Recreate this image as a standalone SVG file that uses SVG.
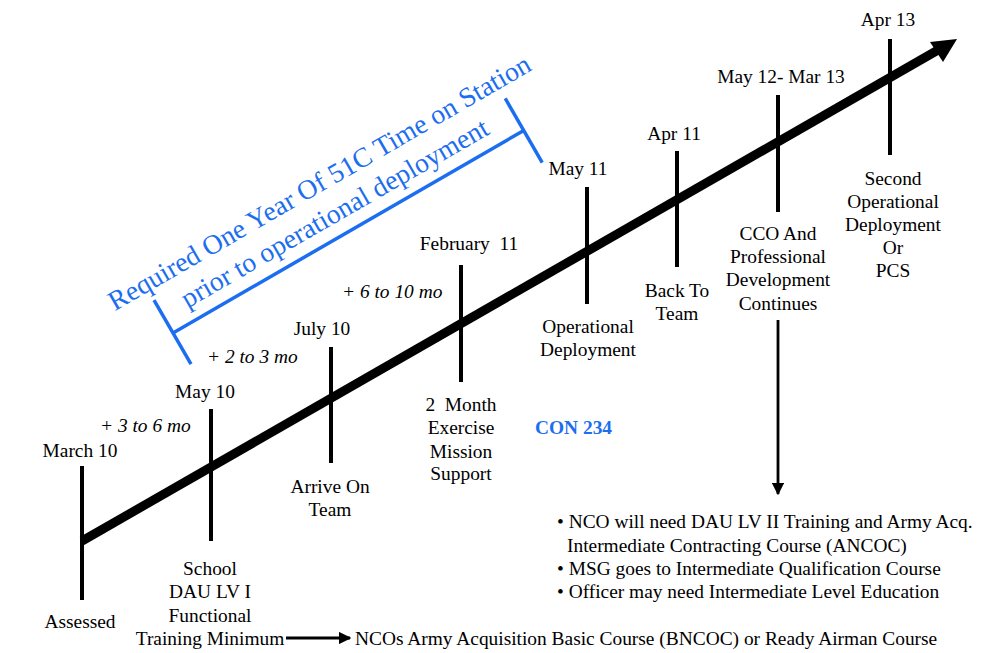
<svg xmlns="http://www.w3.org/2000/svg" width="985" height="653" viewBox="0 0 985 653">
<defs>
<style>
text{font-size:19.4px;fill:#000}
.c{text-anchor:middle}
.it{font-style:italic}
.pre{white-space:pre}
.blue{fill:#1c6ef0}
.big{font-size:27.6px}
.tick{stroke:#000;stroke-width:4;fill:none}
.bl{stroke:#1c6ef0;stroke-width:3.5;fill:none}
</style>
<marker id="ah" viewBox="0 0 10 10" refX="9" refY="5" markerWidth="4.5" markerHeight="4.5" orient="auto" markerUnits="strokeWidth">
<path d="M0,0 L10,5 L0,10 z" fill="#000"/>
</marker>
</defs>
<rect width="985" height="653" fill="#fff"/>
<g font-family="Liberation Serif, Times New Roman, serif">
<g id="connectors">
<line x1="82" y1="541" x2="938" y2="50" stroke="#000" stroke-width="9"/>
<polygon points="957,39 930,42 943,62" fill="#000"/>
<line x1="778" y1="320" x2="778" y2="494" stroke="#000" stroke-width="2.8" marker-end="url(#ah)"/>
<line x1="286" y1="638" x2="350" y2="638" stroke="#000" stroke-width="2.8" marker-end="url(#ah)"/>
</g>
<g id="bracket" transform="translate(173,333) rotate(-30)">
<line class="bl" x1="0" y1="0" x2="405" y2="0"/>
<line class="bl" x1="0" y1="-38" x2="0" y2="36"/>
<line class="bl" x1="405" y1="-37" x2="405" y2="37"/>
<text class="c blue big" x="202" y="-48">Required One Year Of 51C Time on Station</text>
<text class="c blue big" x="200" y="-14">prior to operational deployment</text>
</g>
<g id="n-march10">
<line class="tick" x1="82" y1="466" x2="82" y2="600"/>
<text class="c" x="80" y="457">March 10</text>
<text class="c" x="80" y="628">Assessed</text>
</g>
<g id="n-may10">
<line class="tick" x1="211" y1="409" x2="211" y2="541"/>
<text class="c" x="205" y="398">May 10</text>
<text class="c" x="210" y="575">School</text>
<text class="c" x="210" y="598">DAU LV I</text>
<text class="c" x="210" y="622">Functional</text>
<text class="c" x="210" y="645">Training Minimum</text>
</g>
<g id="n-bncoc">
<text x="355" y="645">NCOs Army Acquisition Basic Course (BNCOC) or Ready Airman Course</text>
</g>
<g id="n-july10">
<line class="tick" x1="331" y1="347" x2="331" y2="463"/>
<text class="c" x="322" y="335">July 10</text>
<text class="c" x="330" y="493">Arrive On</text>
<text class="c" x="330" y="516">Team</text>
</g>
<g id="n-feb11">
<line class="tick" x1="461" y1="265" x2="461" y2="382"/>
<text class="c pre" x="469" y="250">February  11</text>
<text class="c pre" x="461" y="411">2  Month</text>
<text class="c" x="461" y="434">Exercise</text>
<text class="c" x="461" y="458">Mission</text>
<text class="c" x="461" y="480">Support</text>
</g>
<g id="n-may11">
<line class="tick" x1="587" y1="187" x2="587" y2="304"/>
<text class="c" x="578" y="175">May 11</text>
<text class="c" x="588" y="333">Operational</text>
<text class="c" x="588" y="356">Deployment</text>
</g>
<g id="n-con234">
<text class="blue" x="535" y="434" font-weight="bold">CON 234</text>
</g>
<g id="n-apr11">
<line class="tick" x1="677" y1="151" x2="677" y2="267"/>
<text class="c" x="674" y="140">Apr 11</text>
<text class="c" x="677" y="297">Back To</text>
<text class="c" x="677" y="320">Team</text>
</g>
<g id="n-may12">
<line class="tick" x1="778" y1="95" x2="778" y2="212"/>
<text class="c" x="781" y="83">May 12- Mar 13</text>
<text class="c" x="778" y="240">CCO And</text>
<text class="c" x="778" y="263">Professional</text>
<text class="c" x="778" y="286">Development</text>
<text class="c" x="778" y="310">Continues</text>
</g>
<g id="n-apr13">
<line class="tick" x1="890" y1="39" x2="890" y2="155"/>
<text class="c" x="888" y="26">Apr 13</text>
<text class="c" x="893" y="185">Second</text>
<text class="c" x="893" y="208">Operational</text>
<text class="c" x="893" y="231">Deployment</text>
<text class="c" x="893" y="254">Or</text>
<text class="c" x="893" y="277">PCS</text>
</g>
<g id="n-intervals">
<text class="it" x="100" y="432">+ 3 to 6 mo</text>
<text class="it" x="207" y="363">+ 2 to 3 mo</text>
<text class="it" x="342" y="298">+ 6 to 10 mo</text>
</g>
<g id="n-bullets">
<text x="557" y="528">• NCO will need DAU LV II Training and Army Acq.</text>
<text x="567" y="552">Intermediate Contracting Course (ANCOC)</text>
<text x="557" y="575">• MSG goes to Intermediate Qualification Course</text>
<text x="557" y="598">• Officer may need Intermediate Level Education</text>
</g>
</g>
</svg>
